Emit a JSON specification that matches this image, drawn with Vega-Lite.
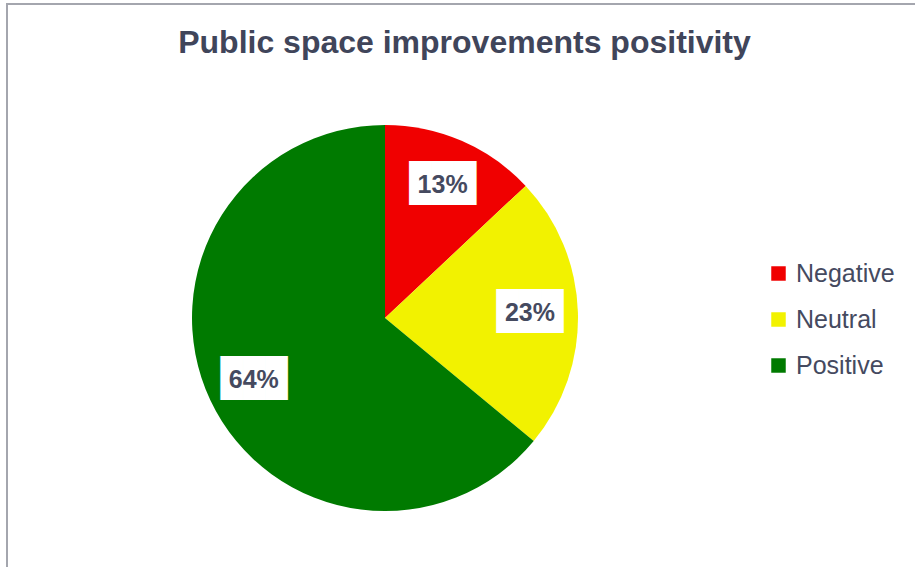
{
  "$schema": "https://vega.github.io/schema/vega-lite/v6.json",
  "autosize": {"type": "none"},
  "padding": {"left": 7, "top": 4, "right": 0, "bottom": 0},
  "width": 915,
  "height": 628,
  "background": "white",
  "view": {"stroke": "#a4a6ae", "strokeWidth": 2},
  "config": {
    "view": {"stroke": "#a4a6ae", "strokeWidth": 2},
    "font": "Liberation Sans"
  },
  "title": {
    "text": "Public space improvements positivity",
    "frame": "group",
    "anchor": "middle",
    "baseline": "alphabetic",
    "offset": -54,
    "dy": 27,
    "font": "Liberation Sans",
    "fontSize": 32,
    "fontWeight": "bold",
    "color": "#40455a"
  },
  "data": {
    "values": [
      {"category": "Negative", "value": 13, "label": "13%"},
      {"category": "Neutral", "value": 23, "label": "23%"},
      {"category": "Positive", "value": 64, "label": "64%"}
    ]
  },
  "encoding": {
    "theta": {"field": "value", "type": "quantitative", "stack": true},
    "order": {"field": "category", "sort": "ascending"}
  },
  "layer": [
    {
      "mark": {"type": "arc", "outerRadius": 193, "xOffset": -79.5},
      "encoding": {
        "color": {
          "field": "category",
          "type": "nominal",
          "scale": {"domain": ["Negative", "Neutral", "Positive"], "range": ["#f00000", "#f2f200", "#007a00"]},
          "legend": {
            "title": null,
            "orient": "none",
            "legendX": 759,
            "legendY": 257,
            "symbolType": "square",
            "symbolSize": 210,
            "symbolStrokeWidth": 0,
            "labelFontSize": 25,
            "labelColor": "#454a5f",
            "labelFont": "Liberation Sans",
            "labelOffset": 5,
            "rowPadding": 20
          }
        }
      }
    },
    {
      "mark": {"type": "text", "radius": 145, "xOffset": -79.5, "text": "███", "font": "DejaVu Sans Mono", "fontSize": 37, "color": "white", "align": "center", "baseline": "middle"},
      "encoding": {}
    },
    {
      "mark": {"type": "text", "radius": 145, "xOffset": -79.5, "font": "Liberation Sans", "fontSize": 25, "fontWeight": "bold", "color": "#454a5f", "align": "center", "baseline": "middle"},
      "encoding": {"text": {"field": "label", "type": "nominal"}}
    }
  ]
}
